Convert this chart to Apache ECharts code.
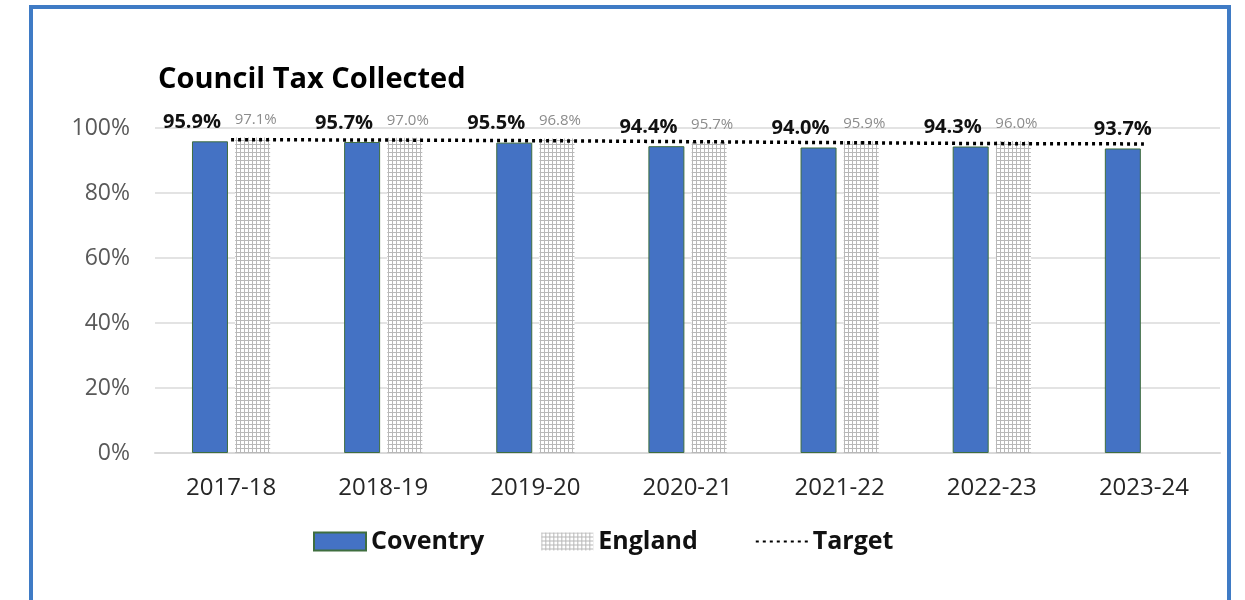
<!DOCTYPE html>
<html>
<head>
<meta charset="utf-8">
<script src="https://cdn.jsdelivr.net/npm/echarts@6/dist/echarts.min.js"></script>
<style>
html,body{margin:0;padding:0;background:#fff;}
#main{width:1245px;height:600px;}
</style>
</head>
<body>
<div id="main"></div>
<script>
const categories = ['2017-18','2018-19','2019-20','2020-21','2021-22','2022-23','2023-24'];
const coventry = [95.9, 95.7, 95.5, 94.4, 94.0, 94.3, 93.7];
const england = [97.1, 97.0, 96.8, 95.7, 95.9, 96.0, null];
const target = [96.4, 96.3, 96.1, 95.8, 95.5, 95.2, 95.1];
const yTicks = [0, 20, 40, 60, 80, 100];

const FONT = '"Open Sans", Lato, sans-serif';

const pc = document.createElement('canvas');
pc.width = 4; pc.height = 4;
const pctx = pc.getContext('2d');
pctx.fillStyle = '#ffffff'; pctx.fillRect(0,0,4,4);
pctx.fillStyle = '#b8b8b8';
pctx.fillRect(0,0,4,1);
pctx.fillRect(0,0,1,4);
const pattern = {image: pc, repeat: 'repeat'};

const chart = echarts.init(document.getElementById('main'), null, {renderer:'canvas'});

const covData = coventry.map((v,i)=>({
  value: v,
  label: {offset: england[i] == null ? [0,0] : [-18,0]}
}));

chart.setOption({
  animation: false,
  backgroundColor: '#ffffff',
  graphic: [{
    type: 'rect',
    shape: {x: 31, y: 7, width: 1198, height: 640},
    style: {fill: 'none', stroke: '#3F7BC5', lineWidth: 4},
    z: 100
  }],
  title: {
    text: 'Council Tax Collected',
    left: 153, top: 60,
    textStyle: {fontFamily: FONT, fontWeight: 'bold', fontSize: 29, color: '#000'}
  },
  legend: {
    left: 308, top: 524,
    itemWidth: 52, itemHeight: 18, itemGap: 57,
    textStyle: {fontFamily: FONT, fontWeight: 'bold', fontSize: 25, color: '#111'},
    data: [
      {name: 'Coventry', icon: 'rect'},
      {name: 'England', icon: 'rect'},
      {name: 'Target', itemStyle: {opacity: 0}}
    ]
  },
  grid: {left: 155, right: 25, top: 128, bottom: 147, containLabel: false},
  xAxis: {
    type: 'category',
    data: categories,
    axisLine: {lineStyle: {color: '#d9d9d9', width: 2}},
    axisTick: {show: false},
    axisLabel: {fontFamily: FONT, fontSize: 24, color: '#262626', margin: 23}
  },
  yAxis: {
    type: 'value',
    min: 0, max: 100, interval: 20,
    axisLabel: {fontFamily: FONT, fontSize: 23, color: '#595959', margin: 25,
      formatter: v => yTicks.includes(v) ? v + '%' : ''},
    splitLine: {lineStyle: {color: '#e3e3e3', width: 2}},
    axisLine: {show: false}, axisTick: {show: false}
  },
  series: [
    {
      name: 'Coventry', type: 'bar', data: covData,
      barWidth: 36, barGap: '20%',
      itemStyle: {color: '#4472C4', borderColor: '#3f6e3f', borderWidth: 1},
      label: {show: true, position: 'top', distance: 9,
        fontFamily: FONT, fontWeight: 'bold', fontSize: 20, color: '#111',
        formatter: p => p.value.toFixed(1) + '%'}
    },
    {
      name: 'England', type: 'bar', data: england,
      barWidth: 35,
      itemStyle: {color: pattern},
      label: {show: true, position: 'top', distance: 10, offset: [3,0],
        fontFamily: FONT, fontSize: 15, color: '#8c8c8c',
        formatter: p => p.value == null ? '' : p.value.toFixed(1) + '%'}
    },
    {
      name: 'Target', type: 'line', data: target,
      symbol: 'none', z: 5,
      itemStyle: {color: '#000'},
      lineStyle: {color: '#000', width: 3.5, type: [3,4]}
    }
  ]
});
</script>
</body>
</html>
